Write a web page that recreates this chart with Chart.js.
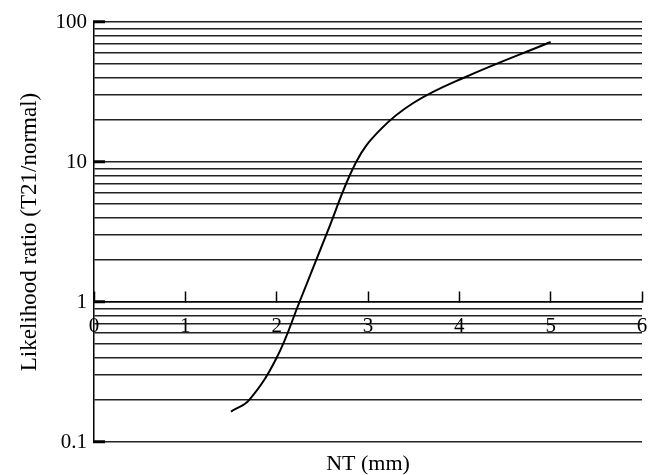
<!DOCTYPE html>
<html>
<head>
<meta charset="utf-8">
<title>Likelihood ratio vs NT</title>
<script src="https://cdn.jsdelivr.net/npm/chart.js@4.4.1/dist/chart.umd.min.js"></script>
<style>
  html, body { margin: 0; padding: 0; background: #fff; }
  #wrap { width: 653px; height: 475px; }
</style>
</head>
<body>
<div id="wrap"><canvas id="lrChart"></canvas></div>
<script>
// curve: NT (mm) against likelihood ratio
const ntValues = [1.5, 1.7, 2.0, 2.25, 2.55, 2.87, 3.13, 3.5, 4.05, 5.0];
const ratioValues = [0.165, 0.2, 0.4, 1.0, 3.1, 10, 16.9, 26.5, 40, 72];

// axis ticks
const yTicks = [0.1, 0.2, 0.3, 0.4, 0.5, 0.6, 0.7, 0.8, 0.9,
                1, 2, 3, 4, 5, 6, 7, 8, 9,
                10, 20, 30, 40, 50, 60, 70, 80, 90, 100];
const yLabels = ['0.1', '1', '10', '100'];
const xMin = 0, xMax = 6;

const serif = "'Liberation Serif', 'Times New Roman', serif";

document.addEventListener('DOMContentLoaded', function () {
    const ctx = document.getElementById('lrChart').getContext('2d');
    const isDecade = v => yLabels.includes(String(v));

    new Chart(ctx, {
        type: 'line',
        data: {
            datasets: [{
                label: 'Likelihood ratio',
                data: ntValues.map((x, i) => ({ x: x, y: ratioValues[i] })),
                borderColor: '#000',
                borderWidth: 2,
                pointRadius: 0,
                fill: false,
                tension: 0.4
            }]
        },
        options: {
            responsive: true,
            maintainAspectRatio: false,
            animation: false,
            layout: { padding: { top: 22, right: 11, bottom: 0, left: 0 } },
            plugins: {
                legend: { display: false },
                tooltip: { enabled: false },
                title: {
                    display: true,
                    text: 'NT (mm)',
                    position: 'bottom',
                    fullSize: false,
                    color: '#000',
                    font: { family: serif, size: 22, weight: 'normal', lineHeight: 1 },
                    padding: { top: 11, bottom: 0 }
                }
            },
            scales: {
                x: {
                    type: 'linear',
                    position: { y: 1 },
                    min: xMin,
                    max: xMax,
                    // label padding should not push the plot inwards
                    afterFit: scale => { scale.paddingLeft = 0; scale.paddingRight = 0; },
                    ticks: {
                        stepSize: 1,
                        color: '#000',
                        padding: 23,
                        font: { family: serif, size: 21 }
                    },
                    grid: {
                        drawOnChartArea: false,
                        drawTicks: true,
                        tickLength: -11,
                        tickColor: '#000',
                        tickWidth: 1.5
                    },
                    border: { display: true, color: '#000', width: 1.5 }
                },
                y: {
                    type: 'logarithmic',
                    min: 0.1,
                    max: 100,
                    afterBuildTicks: scale => {
                        scale.ticks = yTicks.map(v => ({ value: v }));
                    },
                    afterFit: scale => {
                        scale.width = 94;
                        scale.paddingTop = 0;
                        scale.paddingBottom = 0;
                    },
                    ticks: {
                        autoSkip: false,
                        color: '#000',
                        padding: 18,
                        font: { family: serif, size: 21 },
                        callback: value => isDecade(value) ? String(value) : ''
                    },
                    grid: {
                        color: '#222',
                        lineWidth: 1.5,
                        tickLength: -11,
                        tickWidth: 3,
                        tickColor: c => isDecade(c.tick.value) ? '#000' : 'rgba(0,0,0,0)'
                    },
                    border: { display: true, color: '#000', width: 1.5 },
                    title: {
                        display: true,
                        text: 'Likelihood ratio (T21/normal)',
                        color: '#000',
                        font: { family: serif, size: 23 },
                        padding: { top: 16, bottom: 0 }
                    }
                }
            }
        }
    });
});
</script>
</body>
</html>
